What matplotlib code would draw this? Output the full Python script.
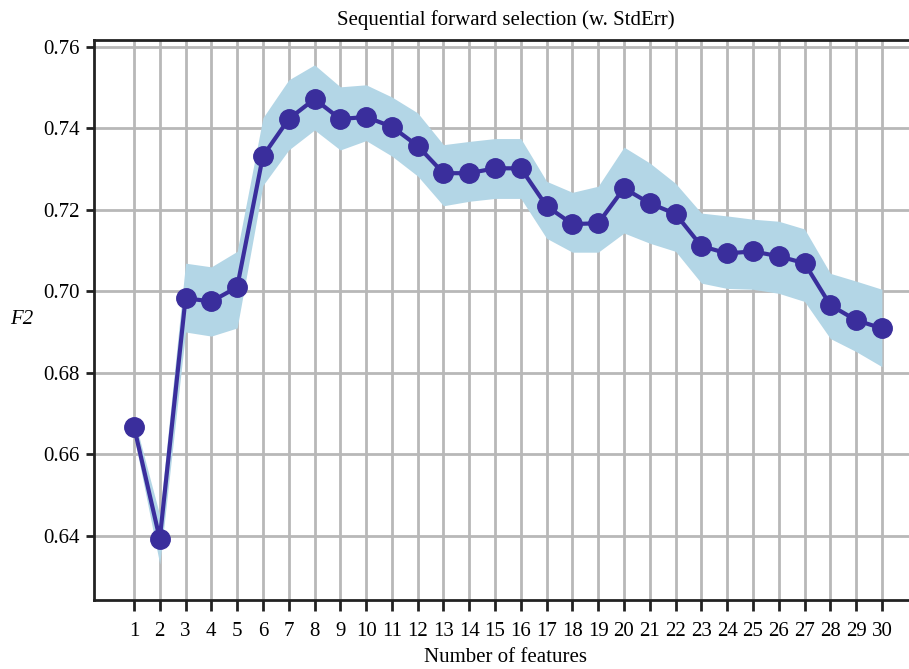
import matplotlib
matplotlib.use("Agg")
import matplotlib.pyplot as plt

n_features = list(range(1, 31))
f2_mean = [0.6668, 0.6392, 0.6983, 0.6975, 0.7010, 0.7332, 0.7423, 0.7472, 0.7423, 0.7428,
           0.7404, 0.7357, 0.7290, 0.7290, 0.7302, 0.7302, 0.7209, 0.7165, 0.7167, 0.7253,
           0.7216, 0.7190, 0.7111, 0.7093, 0.7098, 0.7086, 0.7069, 0.6966, 0.6929, 0.6909]
f2_upper = [0.6690, 0.6450, 0.7069, 0.7060, 0.7098, 0.7426, 0.7519, 0.7556, 0.7502, 0.7507,
            0.7477, 0.7438, 0.7360, 0.7368, 0.7375, 0.7375, 0.7270, 0.7243, 0.7258, 0.7354,
            0.7315, 0.7265, 0.7192, 0.7185, 0.7177, 0.7172, 0.7153, 0.7044, 0.7025, 0.7005]
f2_lower = [0.6645, 0.6330, 0.6900, 0.6890, 0.6910, 0.7260, 0.7347, 0.7396, 0.7347, 0.7370,
            0.7332, 0.7283, 0.7210, 0.7221, 0.7228, 0.7228, 0.7130, 0.7096, 0.7096, 0.7143,
            0.7118, 0.7098, 0.7020, 0.7007, 0.7005, 0.6995, 0.6975, 0.6884, 0.6852, 0.6815]
y_ticks = [0.64, 0.66, 0.68, 0.70, 0.72, 0.74, 0.76]

LINE = "#3a2e9c"
BAND = "#b3d6e6"
GRID = "#b8b8b8"

plt.rcParams.update({"font.family": ["Liberation Serif", "DejaVu Serif"]})

fig = plt.figure(figsize=(9.09, 6.69), dpi=100)
ax = fig.add_axes([94 / 909, 69 / 669, 824 / 909, 560 / 669])

ax.fill_between(n_features, f2_lower, f2_upper, color=BAND, lw=0, zorder=2)
ax.plot(n_features, f2_mean, "-o", color=LINE, lw=3, ms=14, zorder=3)

ax.set_xlim(-0.55, 31.4)
ax.set_ylim(0.6242, 0.7617)
ax.set_xticks(n_features)
ax.set_yticks(y_ticks)
ax.set_yticklabels([f"{v:.2f}" for v in y_ticks])
ax.grid(True, color=GRID, lw=2, zorder=1)
ax.set_axisbelow(True)

for side in ("left", "bottom", "top"):
    ax.spines[side].set_linewidth(2)
    ax.spines[side].set_color("#222222")
ax.spines["right"].set_visible(False)
ax.tick_params(axis="both", labelsize=15, width=2, color="#222222")
ax.tick_params(axis="x", length=8, pad=8)
ax.tick_params(axis="y", length=6, pad=4)

ax.set_title("Sequential forward selection (w. StdErr)", fontsize=15, pad=11)
ax.set_xlabel("Number of features", fontsize=15, labelpad=5)
ax.set_ylabel("F2", fontsize=15, style="italic", rotation=0, labelpad=16, va="center")

fig.savefig("out.png", dpi=100, facecolor="white")
